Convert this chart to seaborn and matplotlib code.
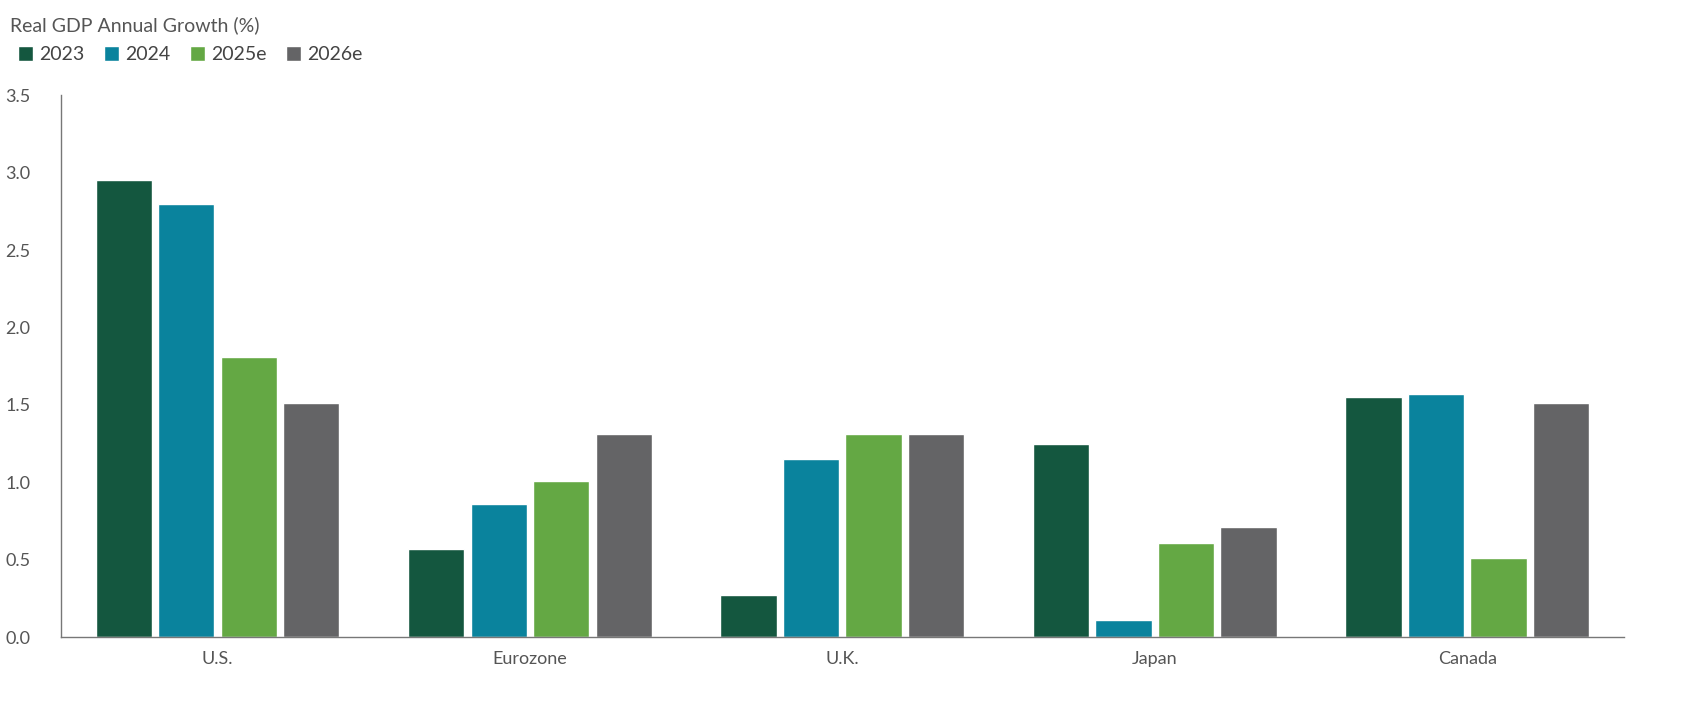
import matplotlib
matplotlib.use("Agg")
import matplotlib.pyplot as plt
import seaborn as sns
import pandas as pd

regions = ["U.S.", "Eurozone", "U.K.", "Japan", "Canada"]
years = ["2023", "2024", "2025e", "2026e"]
v2023 = [2.95, 0.57, 0.27, 1.25, 1.55]
v2024 = [2.80, 0.86, 1.15, 0.11, 1.57]
v2025 = [1.81, 1.01, 1.31, 0.61, 0.51]
v2026 = [1.51, 1.31, 1.31, 0.71, 1.51]
colors = ["#14573f", "#0a839d", "#64a844", "#646466"]

rows = []
for y, vals in zip(years, [v2023, v2024, v2025, v2026]):
    for r, v in zip(regions, vals):
        rows.append({"Region": r, "Year": y, "Value": v})
df = pd.DataFrame(rows)

sns.set_theme(style="white")
plt.rcParams["font.family"] = ["Lato", "DejaVu Sans"]
fig = plt.figure(figsize=(17, 7.28), dpi=100)
ax = fig.add_axes([0.036, 0.125, 0.919, 0.744])
sns.barplot(data=df, x="Region", y="Value", hue="Year", palette=colors,
            hue_order=years, order=regions, ax=ax, width=0.8, gap=0.1,
            saturation=1, legend=False)
ax.set_ylim(0, 3.5)
ax.set_xlim(-0.5, 4.5)
ax.set_yticks([0, 0.5, 1, 1.5, 2, 2.5, 3, 3.5])
ax.set_yticklabels(["0.0", "0.5", "1.0", "1.5", "2.0", "2.5", "3.0", "3.5"])
ax.tick_params(axis="both", labelsize=13, colors="#555555", length=0)
ax.tick_params(axis="y", pad=22)
ax.tick_params(axis="x", pad=10)
ax.set_xlabel("")
ax.set_ylabel("")
for s in ["top", "right"]:
    ax.spines[s].set_visible(False)
for s in ["left", "bottom"]:
    ax.spines[s].set_color("#777777")
    ax.spines[s].set_linewidth(1)

fig.text(0.006, 0.965, "Real GDP Annual Growth (%)", fontsize=14, color="#555555", va="center")
from matplotlib.patches import Patch
handles = [Patch(facecolor=c, label=y) for c, y in zip(colors, years)]
fig.legend(handles=handles, loc="center left", bbox_to_anchor=(0.0, 0.925), ncol=4,
           frameon=False, fontsize=14, handlelength=0.8, handleheight=0.8,
           handletextpad=0.3, columnspacing=1.0, labelcolor="#444444")
fig.savefig("out.png", dpi=100)
